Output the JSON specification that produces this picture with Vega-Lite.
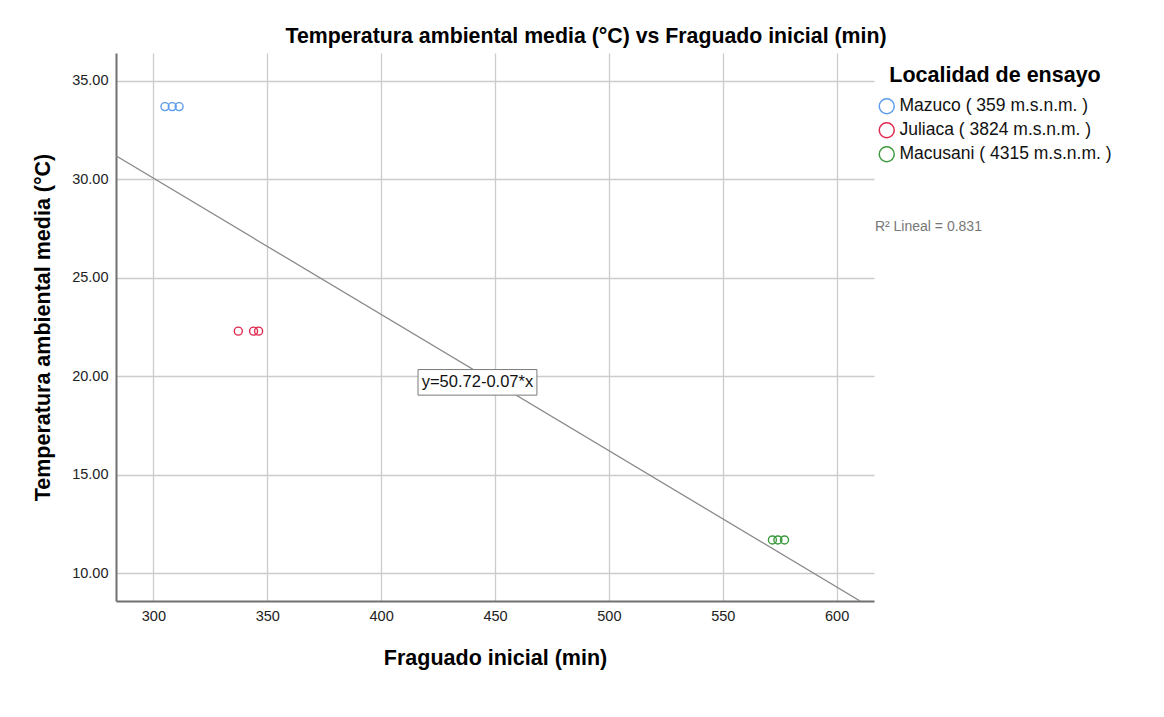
{
  "$schema": "https://vega.github.io/schema/vega-lite/v6.json",
  "autosize": {"type": "none"},
  "width": 758,
  "height": 548,
  "padding": {"left": 116, "top": 53, "right": 290, "bottom": 116},
  "background": "white",
  "config": {
    "font": "Liberation Sans",
    "view": {"stroke": null},
    "axis": {
      "gridColor": "#cccccc",
      "gridWidth": 1.3,
      "domainColor": "#707070",
      "domainWidth": 2,
      "ticks": false,
      "labelFontSize": 14.5,
      "labelColor": "#222222",
      "titleFontSize": 21.5,
      "titleFontWeight": "bold",
      "titleColor": "#000000"
    }
  },
  "title": {
    "text": "Temperatura ambiental media (°C) vs Fraguado inicial (min)",
    "fontSize": 21.3,
    "fontWeight": "bold",
    "color": "#000000",
    "anchor": "middle",
    "dx": 91,
    "offset": 6
  },
  "datasets": {
    "puntos": [
      {"x": 305.1, "y": 33.7, "loc": "Mazuco ( 359 m.s.n.m. )"},
      {"x": 308.3, "y": 33.7, "loc": "Mazuco ( 359 m.s.n.m. )"},
      {"x": 311.3, "y": 33.7, "loc": "Mazuco ( 359 m.s.n.m. )"},
      {"x": 337.3, "y": 22.3, "loc": "Juliaca ( 3824 m.s.n.m. )"},
      {"x": 344.0, "y": 22.3, "loc": "Juliaca ( 3824 m.s.n.m. )"},
      {"x": 346.2, "y": 22.3, "loc": "Juliaca ( 3824 m.s.n.m. )"},
      {"x": 571.8, "y": 11.7, "loc": "Macusani ( 4315 m.s.n.m. )"},
      {"x": 574.2, "y": 11.7, "loc": "Macusani ( 4315 m.s.n.m. )"},
      {"x": 577.1, "y": 11.7, "loc": "Macusani ( 4315 m.s.n.m. )"}
    ],
    "ajuste": [
      {"x": 283.6, "y": 31.2},
      {"x": 610.3, "y": 8.6}
    ],
    "caja": [
      {"x": 416.2, "xe": 468.4, "y": 19.05, "ye": 20.35}
    ],
    "ecuacion": [
      {"x": 442.3, "y": 19.7, "label": "y=50.72-0.07*x"}
    ],
    "r2": [
      {"x": 616.8, "y": 27.57, "label": "R² Lineal = 0.831"}
    ]
  },
  "encoding": {
    "x": {
      "field": "x",
      "type": "quantitative",
      "title": "Fraguado inicial (min)",
      "scale": {"domain": [283.6, 616.4], "nice": false, "zero": false},
      "axis": {
        "values": [300, 350, 400, 450, 500, 550, 600],
        "labelPadding": 8,
        "titleY": 57,
        "titleBaseline": "middle"
      }
    },
    "y": {
      "field": "y",
      "type": "quantitative",
      "title": "Temperatura ambiental media (°C)",
      "scale": {"domain": [8.6, 36.42], "nice": false, "zero": false},
      "axis": {
        "values": [10, 15, 20, 25, 30, 35],
        "format": ".2f",
        "labelPadding": 8,
        "titleX": -73,
        "titleY": 274,
        "titleAngle": -90,
        "titleAlign": "center",
        "titleBaseline": "middle"
      }
    }
  },
  "layer": [
    {
      "data": {"name": "ajuste"},
      "mark": {"type": "line", "color": "#8a8a8a", "strokeWidth": 1.3, "clip": true}
    },
    {
      "data": {"name": "puntos"},
      "mark": {"type": "point", "shape": "circle", "filled": false, "size": 64, "strokeWidth": 1.4, "opacity": 1},
      "encoding": {
        "color": {
          "field": "loc",
          "type": "nominal",
          "scale": {
            "domain": ["Mazuco ( 359 m.s.n.m. )", "Juliaca ( 3824 m.s.n.m. )", "Macusani ( 4315 m.s.n.m. )"],
            "range": ["#5d9cec", "#e0294f", "#3e9a3e"]
          },
          "legend": {
            "title": "Localidad de ensayo",
            "orient": "none",
            "legendX": 762,
            "legendY": 12,
            "titleFontSize": 21.5,
            "titleFontWeight": "bold",
            "titleColor": "#000000",
            "titleAnchor": "middle",
            "titleLimit": 0,
            "titlePadding": 11,
            "labelFontSize": 17.5,
            "labelColor": "#111111",
            "labelOffset": 4,
            "labelLimit": 0,
            "symbolType": "circle",
            "symbolSize": 225,
            "symbolStrokeWidth": 1.5,
            "symbolFillColor": "transparent",
            "rowPadding": 2,
            "symbolOpacity": 1
          }
        }
      }
    },
    {
      "data": {"name": "caja"},
      "mark": {"type": "rect", "fill": "white", "stroke": "#7a7a7a", "strokeWidth": 1},
      "encoding": {
        "x2": {"field": "xe"},
        "y2": {"field": "ye"}
      }
    },
    {
      "data": {"name": "ecuacion"},
      "mark": {"type": "text", "fontSize": 16.5, "color": "#111111", "align": "center", "baseline": "middle"},
      "encoding": {"text": {"field": "label"}}
    },
    {
      "data": {"name": "r2"},
      "mark": {"type": "text", "fontSize": 14, "color": "#777777", "align": "left", "baseline": "middle", "clip": false},
      "encoding": {"text": {"field": "label"}}
    }
  ]
}
